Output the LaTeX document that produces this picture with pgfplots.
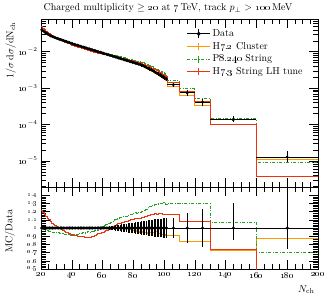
\documentclass[border=0pt]{standalone}
\usepackage{pgfplots}
\usepackage{pgfplotstable}
\pgfplotsset{compat=1.18}
\definecolor{hOrange}{RGB}{255,153,0}
\definecolor{pGreen}{RGB}{34,160,34}
\definecolor{hRed}{RGB}{238,51,17}
\pgfplotstableread{
x xc xe d dep dem r1 r2 r3
20 20.5 0.5 3.981e-2 0.012 0.012 0.99 0.985 1.21
21 21.5 0.5 3.715e-2 0.012 0.012 1.00 0.98 1.19
22 22.5 0.5 3.467e-2 0.012 0.012 0.99 0.975 1.17
23 23.5 0.5 3.236e-2 0.012 0.012 1.00 0.97 1.14
24 24.5 0.5 3.034e-2 0.012 0.012 1.00 0.965 1.12
25 25.5 0.5 2.851e-2 0.012 0.012 0.99 0.96 1.10
26 26.5 0.5 2.692e-2 0.012 0.012 1.00 0.955 1.08
27 27.5 0.5 2.588e-2 0.012 0.012 1.01 0.95 1.06
28 28.5 0.5 2.495e-2 0.012 0.012 1.00 0.95 1.045
29 29.5 0.5 2.410e-2 0.012 0.012 0.99 0.945 1.03
30 30.5 0.5 2.328e-2 0.012 0.012 1.00 0.94 1.02
31 31.5 0.5 2.249e-2 0.012 0.012 1.01 0.94 1.005
32 32.5 0.5 2.173e-2 0.012 0.012 1.00 0.935 0.99
33 33.5 0.5 2.104e-2 0.012 0.012 0.99 0.93 0.98
34 34.5 0.5 2.032e-2 0.012 0.012 1.00 0.93 0.97
35 35.5 0.5 1.963e-2 0.012 0.012 1.01 0.925 0.96
36 36.5 0.5 1.897e-2 0.012 0.012 1.00 0.925 0.95
37 37.5 0.5 1.832e-2 0.012 0.012 0.99 0.92 0.945
38 38.5 0.5 1.774e-2 0.012 0.012 1.00 0.92 0.935
39 39.5 0.5 1.714e-2 0.012 0.012 1.00 0.915 0.925
40 40.5 0.5 1.656e-2 0.012 0.012 0.99 0.915 0.92
41 41.5 0.5 1.600e-2 0.012 0.012 1.00 0.92 0.915
42 42.5 0.5 1.553e-2 0.012 0.012 1.01 0.915 0.91
43 43.5 0.5 1.507e-2 0.012 0.012 1.00 0.92 0.905
44 44.5 0.5 1.463e-2 0.012 0.012 0.99 0.925 0.90
45 45.5 0.5 1.419e-2 0.012 0.012 1.00 0.935 0.898
46 46.5 0.5 1.378e-2 0.012 0.012 1.00 0.93 0.895
47 47.5 0.5 1.337e-2 0.012 0.012 1.01 0.94 0.892
48 48.5 0.5 1.298e-2 0.012 0.012 1.00 0.945 0.89
49 49.5 0.5 1.259e-2 0.012 0.012 0.99 0.94 0.888
50 50.5 0.5 1.222e-2 0.012 0.012 1.00 0.955 0.885
51 51.5 0.5 1.186e-2 0.012 0.012 1.00 0.95 0.887
52 52.5 0.5 1.151e-2 0.012 0.012 1.01 0.96 0.89
53 53.5 0.5 1.117e-2 0.012 0.012 1.00 0.955 0.895
54 54.5 0.5 1.084e-2 0.012 0.012 0.99 0.96 0.90
55 55.5 0.5 1.052e-2 0.012 0.012 1.00 0.965 0.91
56 56.5 0.5 1.021e-2 0.012 0.012 1.00 0.97 0.92
57 57.5 0.5 9.91e-3 0.012 0.012 1.01 0.975 0.928
58 58.5 0.5 9.62e-3 0.012 0.012 1.00 0.985 0.935
59 59.5 0.5 9.33e-3 0.012 0.012 0.99 1.00 0.943
60 60.5 0.5 9.06e-3 0.012 0.012 1.00 1.015 0.95
61 61.5 0.5 8.79e-3 0.014 0.014 1.00 1.025 0.957
62 62.5 0.5 8.53e-3 0.016 0.016 1.01 1.04 0.965
63 63.5 0.5 8.28e-3 0.018 0.018 1.00 1.05 0.972
64 64.5 0.5 8.03e-3 0.020 0.020 0.99 1.06 0.98
65 65.5 0.5 7.80e-3 0.022 0.022 1.00 1.065 0.99
66 66.5 0.5 7.57e-3 0.025 0.025 1.01 1.08 1.00
67 67.5 0.5 7.34e-3 0.028 0.028 1.00 1.09 1.015
68 68.5 0.5 7.13e-3 0.031 0.031 0.99 1.10 1.03
69 69.5 0.5 6.92e-3 0.034 0.034 1.01 1.11 1.04
70 70.5 0.5 6.71e-3 0.037 0.037 1.00 1.12 1.05
71 71.5 0.5 6.51e-3 0.040 0.040 0.99 1.125 1.055
72 72.5 0.5 6.32e-3 0.043 0.043 1.01 1.13 1.065
73 73.5 0.5 6.14e-3 0.046 0.046 1.00 1.135 1.07
74 74.5 0.5 5.96e-3 0.049 0.049 0.98 1.14 1.075
75 75.5 0.5 5.78e-3 0.052 0.052 1.00 1.145 1.08
76 76.5 0.5 5.61e-3 0.055 0.055 0.99 1.15 1.085
77 77.5 0.5 5.44e-3 0.058 0.058 0.98 1.16 1.09
78 78.5 0.5 5.28e-3 0.061 0.061 0.985 1.165 1.10
79 79.5 0.5 5.13e-3 0.064 0.064 0.97 1.17 1.105
80 80.5 0.5 4.98e-3 0.067 0.067 0.975 1.18 1.11
81 81.5 0.5 4.83e-3 0.070 0.070 0.96 1.185 1.112
82 82.5 0.5 4.69e-3 0.073 0.073 0.97 1.18 1.115
83 83.5 0.5 4.55e-3 0.076 0.076 0.955 1.19 1.12
84 84.5 0.5 4.41e-3 0.079 0.079 0.95 1.195 1.12
85 85.5 0.5 4.246e-3 0.082 0.082 0.955 1.20 1.125
86 86.5 0.5 4.074e-3 0.085 0.085 0.94 1.21 1.13
87 87.5 0.5 3.899e-3 0.088 0.088 0.95 1.22 1.135
88 88.5 0.5 3.724e-3 0.091 0.091 0.94 1.23 1.14
89 89.5 0.5 3.548e-3 0.094 0.094 0.935 1.245 1.15
90 90.5 0.5 3.373e-3 0.097 0.097 0.94 1.26 1.155
91 91.5 0.5 3.199e-3 0.100 0.100 0.945 1.265 1.16
92 92.5 0.5 3.034e-3 0.102 0.102 0.95 1.275 1.17
93 93.5 0.5 2.871e-3 0.104 0.104 0.94 1.28 1.17
94 94.5 0.5 2.716e-3 0.106 0.106 0.955 1.285 1.175
95 95.5 0.5 2.564e-3 0.108 0.108 0.955 1.29 1.17
96 96.5 0.5 2.421e-3 0.110 0.110 0.93 1.295 1.175
97 97.5 0.5 2.280e-3 0.112 0.112 0.93 1.30 1.18
98 98.5 0.5 2.148e-3 0.114 0.114 0.925 1.30 1.18
99 99.5 0.5 2.018e-3 0.116 0.116 0.92 1.31 1.165
100 100.5 0.5 1.897e-3 0.118 0.118 0.92 1.31 1.16
101 101.5 0.5 1.778e-3 0.120 0.120 0.915 1.29 1.16
102 106 4 1.25e-3 0.12 0.12 0.915 1.30 1.17
110 115 5 7.4e-4 0.18 0.18 0.84 1.30 1.08
120 125 5 4.1e-4 0.23 0.23 0.84 1.30 1.08
130 145 15 1.35e-4 0.30 0.15 0.73 1.065 0.74
160 180 20 1.28e-5 0.43 0.25 0.875 0.70 0.30
200 nan 0 1.28e-5 0 0 0.875 0.70 0.30
}\tab
\pgfplotsset{
  rivet/.style={scale only axis, width=277pt, xmin=20, xmax=200,
    xtick={20,40,...,200}, minor x tick num=3, tick align=inside, tick pos=both,
    major tick length=9pt, minor tick length=5pt,
    every tick/.style={black, line width=0.4pt},
    axis line style={line width=0.5pt}, clip=true},
  mcline/.style={const plot, line width=0.9pt, no markers},
  mcleg/.style={legend image code/.code={
      \draw (0cm,0cm)--(0.8cm,0cm);
      \draw[solid] (0.4cm,-0.12cm)--(0.4cm,0.12cm);}},
  dataerr/.style={only marks, mark=*, mark size=1.3pt, black,
    error bars/.cd, x dir=both, x explicit, y dir=both, #1,
    error mark=none, error bar style={line width=0.8pt, black}},
}
\begin{document}
\begin{tikzpicture}
\useasboundingbox (0pt,0pt) rectangle (329pt,297pt);
\begin{axis}[rivet, at={(41pt,110pt)}, anchor=south west, height=168pt,
  ymode=log, log basis y=10, ymin=1.93e-6, ymax=0.079,
  xticklabels={},
  yticklabel={\oldstylenums{10}$^{\pgfmathprintnumber{\tick}}$},
  yticklabel style={font=\small},
  legend style={at={(0.515,0.962)}, anchor=north west, draw=none, fill=none,
    font=\normalsize, row sep=0.2pt, cells={anchor=west}},
  legend cell align=left]
\addlegendimage{black, line width=0.9pt, legend image code/.code={
  \draw (0cm,0cm)--(0.8cm,0cm);
  \draw (0.4cm,-0.15cm)--(0.4cm,0.15cm);
  \fill (0.4cm,0cm) circle (1.5pt);}}
\addlegendentry{Data}
\addplot[mcline, hOrange, mcleg] table[x=x, y expr=\thisrow{d}*\thisrow{r1}] {\tab};
\addlegendentry{H\oldstylenums{7}.\oldstylenums{2} Cluster}
\addplot[mcline, pGreen, dash pattern=on 3pt off 1.5pt on 1pt off 1.5pt, mcleg] table[x=x, y expr=\thisrow{d}*\thisrow{r2}] {\tab};
\addlegendentry{P\oldstylenums{8}.\oldstylenums{240} String}
\addplot[mcline, hRed, mcleg] table[x=x, y expr=\thisrow{d}*\thisrow{r3}] {\tab};
\addlegendentry{H\oldstylenums{7}.\oldstylenums{3} String LH tune}
\addplot[forget plot, dataerr={y explicit relative}] table[x=xc, y=d, x error=xe, y error plus=dep, y error minus=dem] {\tab};
\end{axis}
\begin{axis}[rivet, at={(41pt,28pt)}, anchor=south west, height=82pt,
  ymin=0.5, ymax=1.5,
  ytick={0.5,0.6,0.7,0.8,0.9,1.0,1.1,1.2,1.3,1.4},
  yticklabels={\oldstylenums{0}.\oldstylenums{5},\oldstylenums{0}.\oldstylenums{6},\oldstylenums{0}.\oldstylenums{7},\oldstylenums{0}.\oldstylenums{8},\oldstylenums{0}.\oldstylenums{9},\oldstylenums{1},\oldstylenums{1}.\oldstylenums{1},\oldstylenums{1}.\oldstylenums{2},\oldstylenums{1}.\oldstylenums{3},\oldstylenums{1}.\oldstylenums{4}},
  minor y tick num=4,
  xticklabels={\oldstylenums{20},\oldstylenums{40},\oldstylenums{60},\oldstylenums{80},\oldstylenums{100},\oldstylenums{120},\oldstylenums{140},\oldstylenums{160},\oldstylenums{180},\oldstylenums{200}},
  xticklabel style={font=\small},
  yticklabel style={font=\scriptsize, inner ysep=0.2pt}]
\addplot[mcline, hOrange] table[x=x, y=r1] {\tab};
\addplot[mcline, pGreen, dash pattern=on 3pt off 1.5pt on 1pt off 1.5pt] table[x=x, y=r2] {\tab};
\addplot[mcline, hRed] table[x=x, y=r3] {\tab};
\addplot[dataerr={y explicit}] table[x=xc, y expr=1, x error=xe, y error plus=dep, y error minus=dem] {\tab};
\end{axis}
\node[anchor=base west] at (40pt,286pt) {Charged multiplicity $\geq$ \oldstylenums{20} at \oldstylenums{7}\,TeV, track $p_\perp >$ \oldstylenums{100}\,MeV};
\node[rotate=90, anchor=east] at (11pt,278pt) {$1/\sigma\,\mathrm{d}\sigma/\mathrm{d}\mathrm{N}_{\mathrm{ch}}$};
\node[rotate=90] at (10pt,66pt) {MC/Data};
\node[anchor=base east] at (318pt,5pt) {$N_{\mathrm{ch}}$};
\end{tikzpicture}
\end{document}
